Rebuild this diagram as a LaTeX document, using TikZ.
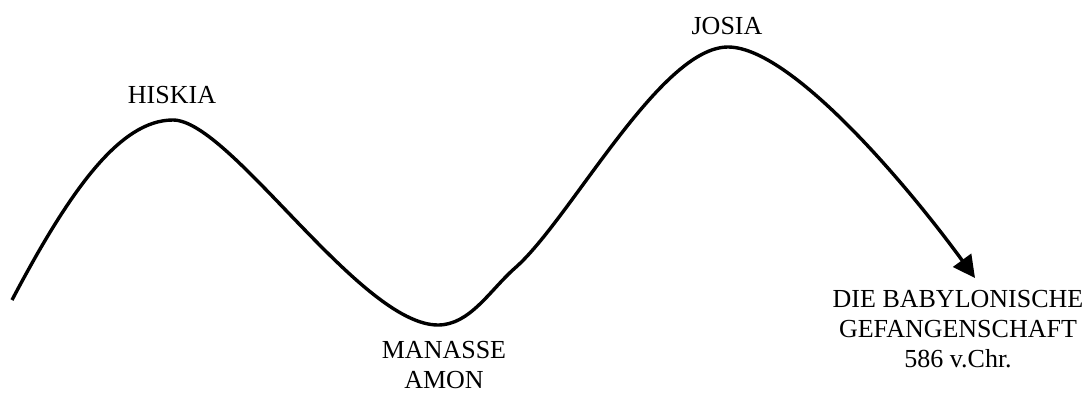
\documentclass[tikz,border=0pt]{standalone}
\usepackage{fontspec}
\setmainfont{Liberation Serif}
\usetikzlibrary{arrows.meta}

\begin{document}
\begin{tikzpicture}[x=0.5pt,y=-0.5pt,
  font=\fontsize{13}{15}\selectfont,
  king/.style={anchor=base, inner sep=0pt},
  era/.style={anchor=north, align=center, inner sep=0pt},
  history/.style={line width=1.7pt, line join=round, -{Triangle[length=11pt,width=11pt]}}]
\useasboundingbox (0,0) rectangle (1091,392);
% turning points of the curve
\coordinate (start) at (12,300);
\coordinate (hiskia) at (173,120);
\coordinate (manasse) at (438,325);
\coordinate (kink) at (515,268);
\coordinate (josia) at (728,47);
\coordinate (exile) at (975,278);
% the rise and fall of the kingdom
\draw[history] (start) .. controls (70,190) and (120,120) .. (hiskia)
  .. controls (230,120) and (360,325) .. (manasse)
  .. controls (470,325) and (490,290) .. (kink)
  .. controls (570,220) and (660,47) .. (josia)
  .. controls (790,47) and (905,182) .. (exile);
% labels
\node[king] (hiskia-lbl) at (172,103) {HISKIA};
\node[king] (josia-lbl) at (727,34) {JOSIA};
\node[era] (manasse-lbl) at (444,341) {MANASSE\\AMON};
\node[era] (exile-lbl) at (958,290) {DIE BABYLONISCHE\\GEFANGENSCHAFT\\586 v.Chr.};
\end{tikzpicture}
\end{document}
